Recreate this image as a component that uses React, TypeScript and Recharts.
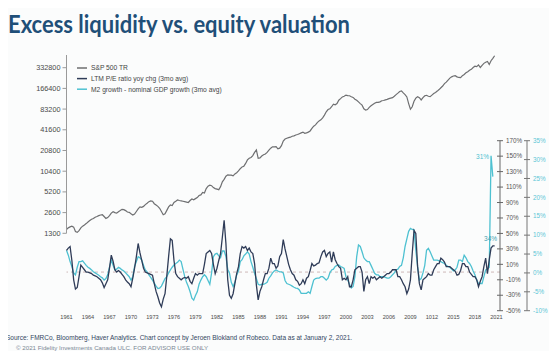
import { ComposedChart, LabelList, Line, ReferenceLine, XAxis, YAxis } from "recharts"

const firstYear = 1961

// quarterly readings, 1961 Q1 .. 2020 Q4
const sp500Tr = [
  1480, 1560, 1610, 1650, // 1961
  1600, 1380, 1340, 1420,
  1560, 1650, 1720, 1800,
  1900, 1990, 2080, 2130,
  2230, 2280, 2350, 2400,
  2420, 2280, 2140, 2200,
  2350, 2560, 2680, 2600,
  2550, 2680, 2780, 2900,
  2870, 2780, 2650, 2620,
  2500, 2400, 2480, 2700, // 1970
  2950, 3150, 3100, 3200,
  3400, 3550, 3750, 3850,
  3800, 3500, 3350, 3200,
  3000, 2700, 2420, 2500,
  2800, 3150, 3350, 3300,
  3650, 3800, 3970, 3900,
  3850, 3800, 3750, 3700,
  3650, 3900, 4100, 4000,
  4150, 4300, 4600, 4700,
  5100, 5000, 5800, 6300, // 1980
  6500, 6400, 6000, 5800,
  5700, 5600, 6200, 7300,
  7900, 8800, 9200, 9100,
  9100, 8900, 9500, 9900,
  10500, 11300, 12000, 12300,
  13500, 15200, 16000, 16500,
  17500, 19500, 21200, 16000,
  16200, 17300, 18000, 18500,
  19500, 21000, 22500, 23500,
  23500, 23600, 22000, 22500, // 1990
  24500, 28500, 30500, 31300,
  32000, 32500, 33500, 34000,
  35000, 35500, 36500, 37500,
  38500, 37000, 37500, 38500,
  40000, 43500, 47000, 49000,
  53000, 56000, 58000, 62000,
  68000, 76000, 82000, 84000,
  90000, 98000, 96000, 100000,
  112000, 118000, 125000, 128000,
  133000, 131000, 130000, 126000, // 2000
  123000, 116000, 112000, 106000,
  100000, 95000, 84000, 80700,
  82000, 88000, 93000, 97000,
  101000, 104000, 104000, 106000,
  110000, 111000, 113000, 115000,
  118000, 120000, 122000, 128000,
  135000, 142000, 150000, 153000,
  143000, 135000, 125000, 100000,
  83000, 90000, 108000, 120000,
  126000, 122000, 113000, 122000, // 2010
  130000, 132000, 128000, 126000,
  133000, 140000, 145000, 152000,
  160000, 170000, 180000, 195000,
  205000, 220000, 235000, 245000,
  252000, 255000, 245000, 240000,
  238000, 255000, 265000, 280000,
  290000, 305000, 315000, 335000,
  350000, 345000, 365000, 335000,
  360000, 385000, 400000, 410000,
  370000, 420000, 455000, 497000, // 2020
]

const peChange = [
  28, 31, 33, 15, // 1961
  -10, -22, -20, -6,
  9, 6, 3, 0,
  0, -1, -2, -4,
  -5, -6, -8, -10,
  -14, -20, -15, -10,
  5, 22, 14, 3,
  0, 2, 0, -3,
  -6, -10, -13, -15,
  -19, -8, 5, 20, // 1970
  37, 25, 15, 5,
  0, -1, -2, -3,
  -4, -15, -25, -32,
  -40, -45, -35, -28,
  -5, 20, 43, 41,
  15, -2, -6, -8,
  -10, -8, -7, -8,
  -6, -12, -15, -8,
  -2, -4, -2, -2,
  -2, 10, 24, 26, // 1980
  28, 24, 10, -2,
  5, 15, 24, 45,
  67, 37, -10, -30,
  -34, -28, -15, -2,
  7, 24, 33, 31,
  33, 28, 31, 26,
  24, 11, -17, -36,
  -25, -19, -10, -2,
  -2, 5, 18, 11,
  11, 5, 8, 20, // 1990
  24, 42, 30, 20,
  10, 3, -2, -4,
  -10, -12, -17, -15,
  -10, -15, -8, -6,
  2, 11, 8, 9,
  11, 12, 20, 26,
  28, 20, 24, 26,
  13, 26, 16, 11,
  7, 5, -10, -8,
  -10, -6, -19, -19, // 2000
  -10, 3, 5, 7,
  7, 0, -25, -10,
  -6, -15, -6, -8,
  -6, -10, -8, -6,
  -8, -6, -4, -2,
  -2, 0, 3, 3,
  3, -6, -6, -10,
  -15, -19, -28, -22,
  -10, 24, 54, 50,
  7, -15, -23, -10, // 2010
  -8, -6, -2, -4,
  -4, 3, 7, 11,
  11, 18, 16, 13,
  7, 7, 7, 5,
  3, 1, -4, -3,
  2, 11, 11, 7,
  7, 0, -3, -6,
  -6, -10, -19, -12,
  -6, 7, 18, -2,
  16, 31, 34, 34, // 2020
]

const m2Gap = [
  6, 4.7, 3, 1.7, // 1961
  0, -0.5, 1.5, 3,
  3, 3.2, 2.6, 2,
  1.5, 1.2, 0.8, 0.3,
  0, -0.3, -0.6, -1,
  -1.3, -1.9, -1.5, -0.5,
  1.5, 3.4, 2, 0.8,
  1, 1.5, 1.2, 0.8,
  0.5, 0, -0.5, -1,
  -1.9, -1, 1.7, 3, // 1970
  4.3, 4, 3.4, 2,
  0.8, 0.3, -0.5, -1.2,
  -1.9, -2.7, -3.5, -4.1,
  -4, -3.5, -2.5, -1.5,
  -1, 0, 0.8, 1.5,
  2.1, 2.5, 2.8, 3.4,
  3, 1, -1, -2.5,
  -3.6, -5, -6.7, -7.2,
  -6, -5, -3, -1.9,
  -1, -0.5, -1, -2, // 1980
  -3, 0, 4.3, 5,
  5.2, 4.5, 4, 5.8,
  5.8, 4.3, 1, -0.1,
  -2.5, -3.6, -2.5, -0.6,
  0.5, 3, 3.5, 4.5,
  5, 5.6, 5, 3,
  1.5, -0.1, -1.5, -3,
  -3.2, -3, -3, -2.8,
  -2.5, -1.4, -0.8, 0,
  0.5, 0.8, 0.5, 0.3, // 1990
  0.3, 0, -2, -2.8,
  -3, -3.2, -3.5, -3.8,
  -4, -4.1, -4.5, -5.4,
  -5.4, -5.4, -5.4, -5,
  -5.4, -3.6, -1.9, -1.5,
  -1.4, -1.4, -1, -1,
  -1.4, -1.9, -1.4, 0,
  0.8, 1, 1.7, 2,
  2.1, 1.7, 1.5, 1.2,
  -1, -1.9, -3, -4, // 2000
  -3.6, -1, 4.3, 7.4,
  7, 5.6, 4, 3.4,
  3, 3, 2, 1,
  -0.1, -0.5, -0.5, -1,
  -1, -1, -1.2, -1.4,
  -1.4, -1, -0.5, 0,
  0.8, 1, 1.7, 2,
  4, 7, 9, 11,
  11.8, 11.5, 11.4, 6,
  1.7, -1.9, -1.5, 0, // 2010
  2, 6, 6.5, 5.6,
  4.5, 3.4, 3.4, 3.4,
  3.2, 3, 2.7, 2.5,
  2, 1.7, 1.5, 1,
  0.5, 0.8, 1.5, 3.4,
  3.4, 3, 4.7, 4,
  3, 2.5, 1.7, 0.5,
  -0.5, -1.9, -2.8, -2.8,
  -2.8, -1, 0.8, 1,
  1.5, 31, 25.5, null, // 2020
]

const seriesNames = [
  "S&P 500 TR",
  "LTM P/E ratio yoy chg (3mo avg)",
  "M2 growth - nominal GDP growth (3mo avg)",
]

const yearTicks = [1961, 1964, 1967, 1970, 1973, 1976, 1979, 1982, 1985, 1988, 1991, 1994, 1997, 2000, 2003, 2006, 2009, 2012, 2015, 2018, 2021]
const yearLabels = ["1961", "1964", "1967", "1970", "1973", "1976", "1979", "1982", "1985", "1988", "1991", "1994", "1997", "2000", "2003", "2006", "2009", "1012", "2015", "2018", "2021"]
const spTicks = [1300, 2600, 5200, 10400, 20800, 41600, 83200, 166400, 332800]
const peTicks = [-50, -30, -10, 10, 30, 50, 70, 90, 110, 130, 150, 170]
const m2Ticks = [-10, -5, 0, 5, 10, 15, 20, 25, 30, 35]

const rows = sp500Tr.map((sp, i) => ({
  t: firstYear + i / 4,
  sp,
  pe: peChange[i],
  m2: m2Gap[i],
}))

const m2Peak = m2Gap.indexOf(Math.max(...m2Gap.filter((v) => v !== null)))
const peLast = peChange.length - 1

const SP_COLOR = "#6e6f71"
const PE_COLOR = "#2f3c58"
const M2_COLOR = "#4ec1d1"
const FONT = "'Liberation Sans', Arial, sans-serif"
const X_DOMAIN = [1961, 2021.5]

function RightTick(props: any) {
  const { x, y, payload, color, line } = props
  return (
    <g>
      <line x1={x - 9} x2={x - 3} y1={y} y2={y} stroke={line} strokeWidth={1} />
      <text x={x} y={y} dy="0.35em" fill={color} fontSize={6.3} fontFamily={FONT}>
        {payload.value}%
      </text>
    </g>
  )
}

export default function App() {
  return (
    <div style={{ position: "relative", width: 557, height: 359, background: "#fbfcfc", margin: -8, overflow: "hidden" }}>
      <svg width={557} height={359} style={{ position: "absolute", left: 0, top: 0 }}>
        <text x={8} y={33} fontSize={24} fontWeight={700} fontFamily="Lato, 'Open Sans', sans-serif" fill="#1f4f78" textLength={342} lengthAdjust="spacingAndGlyphs">
          Excess liquidity vs. equity valuation
        </text>
        {seriesNames.map((name, i) => (
          <g key={name}>
            <line x1={77} x2={87} y1={68 + i * 10.6} y2={68 + i * 10.6} stroke={[SP_COLOR, PE_COLOR, M2_COLOR][i]} strokeWidth={1.5} />
            <text x={91} y={68 + i * 10.6} dy="0.35em" fontSize={6.7} fontFamily={FONT} fill="#444">
              {name}
            </text>
          </g>
        ))}
        <text x={6} y={339.5} fontSize={6.5} fontFamily={FONT} fill="#33465f">
          Source: FMRCo, Bloomberg, Haver Analytics.  Chart concept by Jeroen Blokland of Robeco. Data as at January 2, 2021.
        </text>
        <text x={16} y={349.5} fontSize={6.2} fontFamily={FONT} fill="#7a8794">
          © 2021 Fidelity Investments Canada ULC.   FOR ADVISOR USE ONLY
        </text>
      </svg>

      <div style={{ position: "absolute", left: 0, top: 0 }}>
        <ComposedChart width={557} height={240} data={rows} margin={{ top: 55, right: 57, bottom: 6.7, left: 16.5 }}>
          <XAxis type="number" dataKey="t" domain={X_DOMAIN} hide />
          <YAxis
            yAxisId="sp"
            scale="log"
            domain={[1300, 509000]}
            ticks={spTicks}
            interval={0}
            allowDataOverflow
            width={50}
            axisLine={{ stroke: "#9a9a9a" }}
            tickLine={{ stroke: "#9a9a9a" }}
            tickSize={4}
            tickMargin={2}
            tick={{ fontSize: 7.3, fill: "#4a4a4a", fontFamily: FONT }}
          />
          <Line yAxisId="sp" type="linear" dataKey="sp" stroke={SP_COLOR} strokeWidth={1.2} dot={false} isAnimationActive={false} />
        </ComposedChart>
      </div>

      <div style={{ position: "absolute", left: 0, top: 0 }}>
        <ComposedChart width={557} height={359} data={rows} margin={{ top: 140.7, right: 0, bottom: 34.3, left: 66.5 }}>
          <XAxis
            type="number"
            dataKey="t"
            domain={X_DOMAIN}
            ticks={yearTicks}
            interval={0}
            tickFormatter={(v) => yearLabels[yearTicks.indexOf(v)]}
            axisLine={false}
            tickLine={false}
            tickSize={0}
            tickMargin={4}
            height={14}
            tick={{ fontSize: 5.6, fill: "#4a4a4a", fontFamily: FONT }}
          />
          <YAxis
            yAxisId={2}
            orientation="right"
            domain={[-10, 35]}
            ticks={m2Ticks}
            interval={0}
            width={30}
            axisLine={{ stroke: "#777" }}
            tickLine={false}
            tickSize={0}
            tickMargin={6}
            tick={<RightTick color="#5cc6d6" line="#777" />}
          />
          <YAxis
            yAxisId={1}
            orientation="right"
            domain={[-50, 170]}
            ticks={peTicks}
            interval={0}
            width={27}
            axisLine={{ stroke: "#666" }}
            tickLine={false}
            tickSize={0}
            tickMargin={6}
            tick={<RightTick color="#555" line="#666" />}
          />
          <ReferenceLine yAxisId={1} y={0} stroke="#cdb8b8" strokeDasharray="3 3" />
          <Line yAxisId={2} type="linear" dataKey="m2" stroke={M2_COLOR} strokeWidth={1.3} dot={false} isAnimationActive={false}>
            <LabelList
              dataKey="m2"
              content={(p: any) =>
                p.index === m2Peak ? (
                  <text x={p.x - 2} y={p.y + 3} textAnchor="end" fontSize={6.5} fill={M2_COLOR} fontFamily={FONT}>
                    {Math.round(p.value)}%
                  </text>
                ) : null
              }
            />
          </Line>
          <Line yAxisId={1} type="linear" dataKey="pe" stroke={PE_COLOR} strokeWidth={1.3} dot={false} isAnimationActive={false}>
            <LabelList
              dataKey="pe"
              content={(p: any) =>
                p.index === peLast ? (
                  <text x={p.x - 4} y={p.y - 5} textAnchor="middle" fontSize={6.5} fill="#3f9fb0" fontFamily={FONT}>
                    {Math.round(p.value)}%
                  </text>
                ) : null
              }
            />
          </Line>
        </ComposedChart>
      </div>
    </div>
  )
}
